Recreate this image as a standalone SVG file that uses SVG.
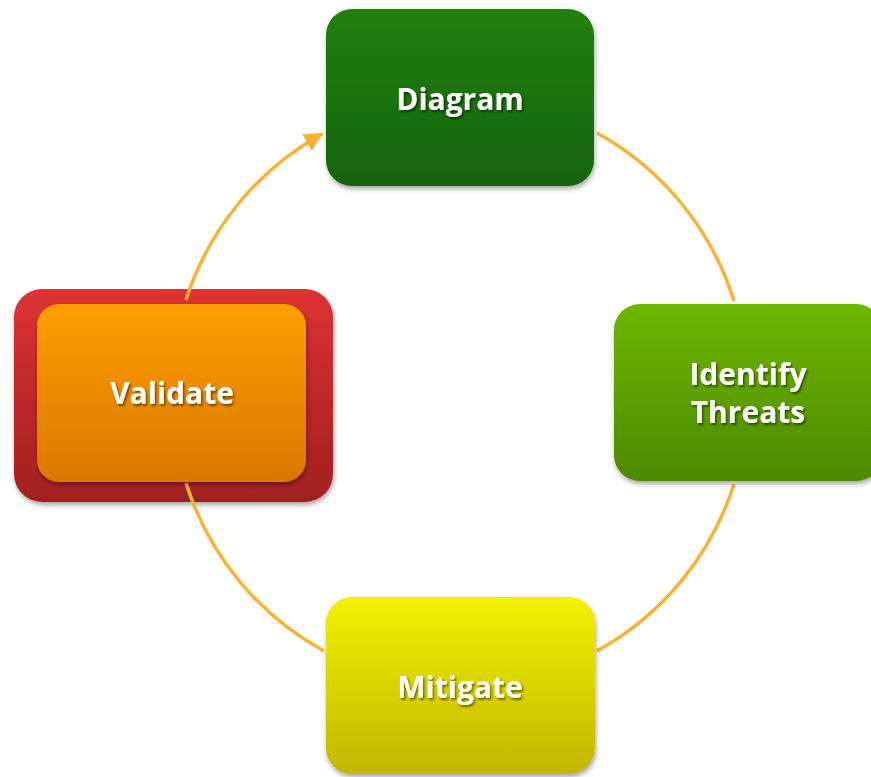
<svg xmlns="http://www.w3.org/2000/svg" width="871" height="777" viewBox="0 0 871 777">
<defs>
<linearGradient id="gDiagram" x1="0" y1="0" x2="0" y2="1"><stop offset="0" stop-color="#21800F"/><stop offset="1" stop-color="#146307"/></linearGradient>
<linearGradient id="gIdentify" x1="0" y1="0" x2="0" y2="1"><stop offset="0" stop-color="#6CB700"/><stop offset="1" stop-color="#4E8900"/></linearGradient>
<linearGradient id="gMitigate" x1="0" y1="0" x2="0" y2="1"><stop offset="0" stop-color="#F3F100"/><stop offset="1" stop-color="#C2B600"/></linearGradient>
<linearGradient id="gValidate" x1="0" y1="0" x2="0" y2="1"><stop offset="0" stop-color="#FF9D00"/><stop offset="1" stop-color="#D97800"/></linearGradient>
<linearGradient id="gRed" x1="0" y1="0" x2="0" y2="1"><stop offset="0" stop-color="#DD3232"/><stop offset="1" stop-color="#A21F1F"/></linearGradient>
<filter id="boxShadow" x="-10%" y="-10%" width="125%" height="130%">
<feDropShadow dx="1" dy="3" stdDeviation="2.5" flood-color="#000" flood-opacity="0.35"/>
</filter>
<filter id="textShadow" x="-10%" y="-20%" width="125%" height="150%">
<feDropShadow dx="1.5" dy="2" stdDeviation="1" flood-color="#000" flood-opacity="0.5"/>
</filter>
<marker id="arrow" viewBox="0 0 10 10" refX="9" refY="5" markerWidth="5.5" markerHeight="5.5" markerUnits="strokeWidth" orient="auto">
<path d="M0,0 L10,5 L0,10 Z" fill="#FBB233"/>
</marker>
</defs>
<style>
.conn{fill:none;stroke:#FBB233;stroke-width:3.5;stroke-linecap:butt}
.lbl{font-family:"Open Sans","Noto Sans","DejaVu Sans",sans-serif;font-weight:bold;font-size:30px;fill:#FFFFFF;text-anchor:middle;filter:url(#textShadow)}
.box{filter:url(#boxShadow)}
</style>
<rect width="871" height="777" fill="#FFFFFF"/>
<g id="validate-frame">
<rect class="box" x="14" y="289" width="319" height="213" rx="28" ry="28" fill="url(#gRed)"/>
</g>
<g id="connectors">
<path class="conn" d="M597,133 A291,291 0 0 1 734,301"/>
<path class="conn" d="M734,484 A291,291 0 0 1 597,651"/>
<path class="conn" d="M324,651 A291,291 0 0 1 186,483"/>
<path class="conn" d="M186,300 A291,291 0 0 1 322,134" marker-end="url(#arrow)"/>
</g>
<g id="node-diagram">
<rect class="box" x="326" y="9" width="268" height="177" rx="26" ry="26" fill="url(#gDiagram)"/>
<text class="lbl" x="460" y="110">Diagram</text>
</g>
<g id="node-identify">
<rect class="box" x="614" y="304" width="268" height="177" rx="26" ry="26" fill="url(#gIdentify)"/>
<text class="lbl" x="748" y="385">Identify</text>
<text class="lbl" x="748" y="423">Threats</text>
</g>
<g id="node-mitigate">
<rect class="box" x="326" y="597" width="269" height="177" rx="26" ry="26" fill="url(#gMitigate)"/>
<text class="lbl" x="460" y="698">Mitigate</text>
</g>
<g id="node-validate">
<rect class="box" x="37" y="304" width="269" height="178" rx="22" ry="22" fill="url(#gValidate)"/>
<text class="lbl" x="172" y="404">Validate</text>
</g>
</svg>
